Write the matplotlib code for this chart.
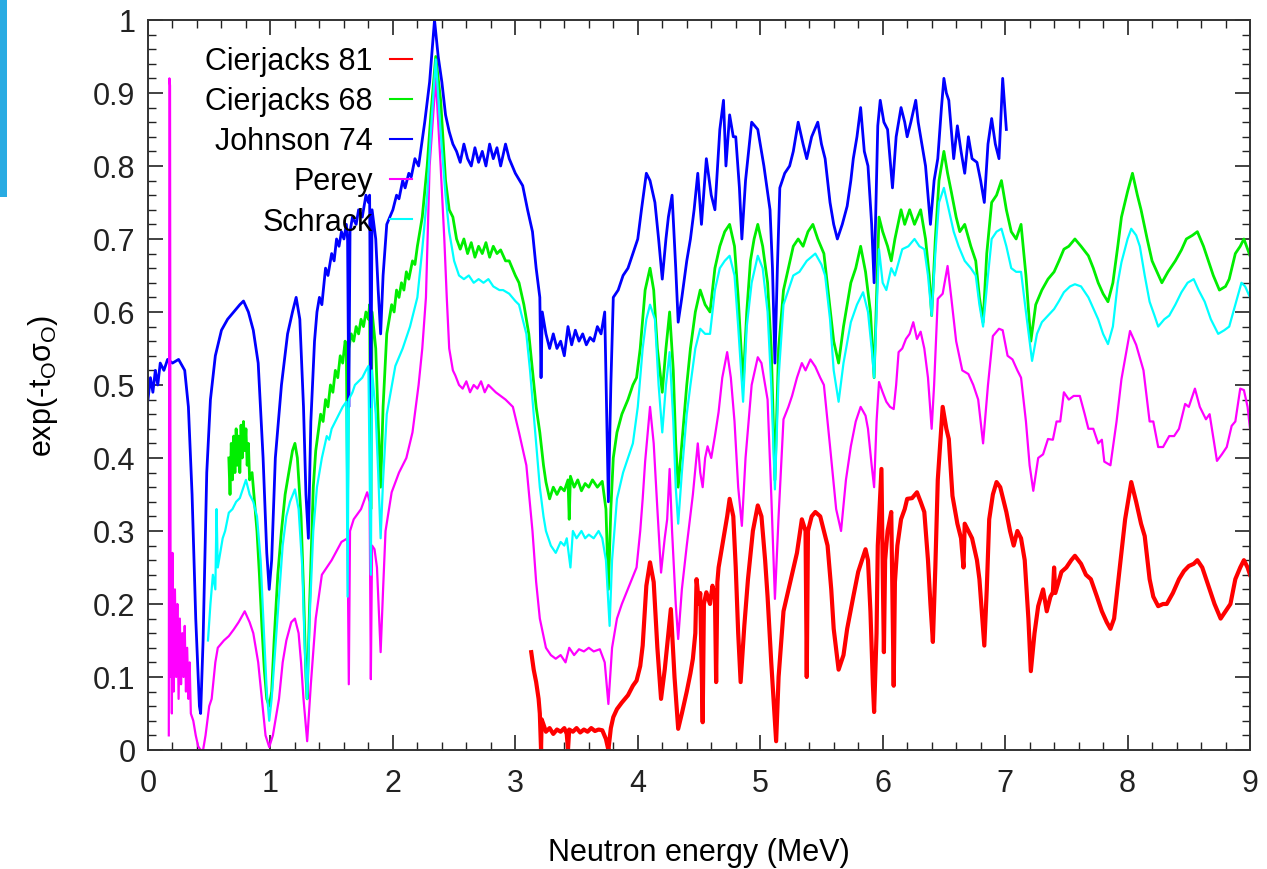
import matplotlib
matplotlib.use("Agg")
import matplotlib.pyplot as plt
from matplotlib.ticker import MultipleLocator
from matplotlib.patches import Rectangle

plt.rcParams['font.family'] = ['Liberation Sans', 'DejaVu Sans']
plt.rcParams['mathtext.fontset'] = 'custom'
plt.rcParams['mathtext.rm'] = 'Liberation Sans'
plt.rcParams['mathtext.it'] = 'Liberation Sans'

# ---- data (energy in MeV, transmission) ----
johnson_e = [0.00, 0.02, 0.04, 0.06, 0.08, 0.10, 0.13, 0.16, 0.20, 0.25, 0.30, 0.33, 0.36, 0.39, 0.42, 0.43,
             0.45, 0.48, 0.51, 0.55, 0.60, 0.65, 0.70, 0.75, 0.78, 0.82, 0.86, 0.90, 0.94, 0.97, 0.99, 1.01,
             1.04, 1.09, 1.14, 1.18, 1.21, 1.24, 1.27, 1.29, 1.31, 1.33,
             1.36, 1.38, 1.40, 1.42, 1.45, 1.47, 1.50, 1.52, 1.54, 1.56, 1.58, 1.60, 1.62, 1.63, 1.64, 1.65,
             1.67, 1.70, 1.72, 1.75, 1.78, 1.80, 1.81, 1.82, 1.83, 1.86, 1.88, 1.90, 1.92, 1.95,
             2.00, 2.03, 2.05, 2.08, 2.10, 2.13, 2.15, 2.18, 2.21, 2.26, 2.30, 2.34, 2.37, 2.40, 2.43, 2.46,
             2.49, 2.52, 2.55, 2.58, 2.61, 2.64,
             2.67, 2.70, 2.73, 2.76, 2.79, 2.82, 2.85, 2.88, 2.92, 2.95, 3.00, 3.06, 3.10, 3.14, 3.17, 3.20,
             3.21, 3.22, 3.25, 3.28, 3.31, 3.34, 3.37, 3.40, 3.43, 3.46, 3.49, 3.52, 3.55, 3.58, 3.61, 3.64,
             3.67, 3.70, 3.73, 3.76, 3.78, 3.80, 3.84, 3.88, 3.92, 3.96, 4.00, 4.03, 4.07, 4.10, 4.14, 4.17,
             4.20, 4.23, 4.25, 4.28, 4.31, 4.33, 4.36, 4.40, 4.43, 4.46, 4.49, 4.52, 4.56, 4.60, 4.63, 4.67,
             4.70, 4.72, 4.75, 4.78, 4.80, 4.83, 4.85, 4.88, 4.93, 4.98, 5.03, 5.08, 5.10, 5.12, 5.14, 5.16,
             5.20, 5.24, 5.27, 5.31, 5.35, 5.38, 5.42, 5.47, 5.50, 5.53, 5.57, 5.60, 5.63, 5.67, 5.71, 5.74,
             5.76, 5.79, 5.82, 5.85, 5.88, 5.91, 5.93, 5.96, 5.98, 6.01, 6.04, 6.08, 6.11, 6.15, 6.18, 6.20,
             6.23, 6.27, 6.29, 6.32, 6.35, 6.39, 6.42, 6.45, 6.48, 6.50, 6.52, 6.54, 6.56, 6.58, 6.61, 6.64,
             6.67, 6.70, 6.73, 6.77, 6.80, 6.83, 6.86, 6.89, 6.92, 6.95, 6.98, 7.01]
johnson_t = [0.48, 0.51, 0.49, 0.52, 0.50, 0.53, 0.52, 0.535, 0.53, 0.535, 0.52, 0.47, 0.35, 0.18, 0.06, 0.05,
             0.15, 0.38, 0.48, 0.54, 0.575, 0.59, 0.60, 0.61, 0.615, 0.60, 0.575, 0.53, 0.40, 0.27, 0.22, 0.26,
             0.40, 0.50, 0.57, 0.60, 0.62, 0.59, 0.47, 0.35, 0.29, 0.45,
             0.56, 0.60, 0.62, 0.61, 0.66, 0.65, 0.68, 0.67, 0.70, 0.69, 0.71, 0.70, 0.72, 0.70, 0.47, 0.71,
             0.73, 0.72, 0.74, 0.73, 0.76, 0.75, 0.76, 0.47, 0.74, 0.70, 0.63, 0.57, 0.65, 0.72,
             0.74, 0.76, 0.755, 0.78, 0.77, 0.79, 0.785, 0.81, 0.80, 0.86, 0.915, 1.0, 0.95, 0.915, 0.87, 0.847,
             0.83, 0.82, 0.805, 0.83, 0.81, 0.80,
             0.825, 0.805, 0.82, 0.80, 0.83, 0.81, 0.825, 0.80, 0.83, 0.81, 0.79, 0.773, 0.74, 0.71, 0.66, 0.62,
             0.51, 0.60, 0.57, 0.55, 0.57, 0.55, 0.56, 0.54, 0.58, 0.555, 0.575, 0.56, 0.57, 0.555, 0.565, 0.56,
             0.58, 0.57, 0.60, 0.34, 0.50, 0.62, 0.63, 0.65, 0.66, 0.68, 0.70, 0.74, 0.79, 0.78, 0.75, 0.70,
             0.645, 0.70, 0.73, 0.76, 0.66, 0.586, 0.62, 0.67, 0.70, 0.74, 0.79, 0.72, 0.81, 0.76, 0.74, 0.85,
             0.89, 0.80, 0.87, 0.84, 0.84, 0.77, 0.70, 0.78, 0.86, 0.85, 0.80, 0.74, 0.66, 0.53, 0.66, 0.77,
             0.79, 0.80, 0.82, 0.86, 0.83, 0.81, 0.84, 0.86, 0.83, 0.81, 0.75, 0.72, 0.70, 0.72, 0.745, 0.78,
             0.81, 0.84, 0.88, 0.82, 0.80, 0.72, 0.64, 0.855, 0.89, 0.86, 0.85, 0.77, 0.84, 0.88, 0.86, 0.84,
             0.86, 0.89, 0.86, 0.83, 0.80, 0.72, 0.78, 0.81, 0.88, 0.92, 0.90, 0.89, 0.85, 0.81, 0.855, 0.82,
             0.79, 0.84, 0.81, 0.805, 0.78, 0.75, 0.83, 0.865, 0.83, 0.81, 0.92, 0.85]

cj68_e = [0.66, 0.67, 0.68, 0.69, 0.70, 0.71, 0.72, 0.73, 0.74, 0.75, 0.76, 0.77, 0.78, 0.79, 0.80, 0.81,
          0.82, 0.83, 0.85, 0.87, 0.89, 0.91, 0.93, 0.95, 0.97, 0.99, 1.01, 1.03, 1.06, 1.09, 1.12, 1.15,
          1.18, 1.20, 1.22, 1.25, 1.27, 1.29, 1.30, 1.32, 1.35, 1.37, 1.39, 1.41, 1.43, 1.45, 1.47, 1.49,
          1.51, 1.53, 1.55, 1.57, 1.59, 1.61, 1.62, 1.63, 1.64, 1.66, 1.68, 1.70, 1.72, 1.74, 1.76, 1.78,
          1.80, 1.81, 1.82, 1.83, 1.86, 1.88, 1.90, 1.92, 1.95, 1.97, 1.99, 2.01, 2.03, 2.05, 2.07, 2.09,
          2.11, 2.13, 2.16, 2.18, 2.20, 2.24, 2.28, 2.31, 2.35, 2.39, 2.43, 2.46, 2.49, 2.52, 2.55, 2.58,
          2.61, 2.64, 2.67, 2.70, 2.73, 2.76, 2.79, 2.82, 2.85, 2.88, 2.92, 2.95, 3.00, 3.03, 3.07, 3.11,
          3.14, 3.17, 3.20, 3.23, 3.25, 3.28, 3.31, 3.34, 3.37, 3.40, 3.43, 3.44, 3.45, 3.48, 3.51, 3.54,
          3.57, 3.60, 3.63, 3.67, 3.71, 3.74, 3.76, 3.78, 3.80, 3.83, 3.87, 3.92, 3.96, 3.99, 4.02, 4.06,
          4.10, 4.13, 4.16, 4.20, 4.23, 4.26, 4.29, 4.31, 4.33, 4.36, 4.40, 4.43, 4.47, 4.51, 4.55, 4.59,
          4.63, 4.67, 4.71, 4.75, 4.79, 4.82, 4.86, 4.89, 4.92, 4.95, 4.98, 5.02, 5.06, 5.09, 5.12, 5.15,
          5.19, 5.23, 5.27, 5.31, 5.35, 5.39, 5.43, 5.47, 5.52, 5.56, 5.60, 5.64, 5.68, 5.74, 5.78, 5.82,
          5.86, 5.90, 5.93, 5.95, 5.97, 6.00, 6.04, 6.07, 6.10, 6.15, 6.18, 6.22, 6.26, 6.31, 6.35, 6.38,
          6.40, 6.43, 6.46, 6.50, 6.53, 6.56, 6.60, 6.63, 6.67, 6.72, 6.76, 6.79, 6.82, 6.85, 6.89, 6.93,
          6.97, 7.01, 7.05, 7.09, 7.13, 7.17, 7.21, 7.25, 7.30, 7.35, 7.40, 7.44, 7.48, 7.52, 7.57, 7.62,
          7.68, 7.72, 7.76, 7.80, 7.84, 7.88, 7.92, 7.95, 8.00, 8.04, 8.08, 8.11, 8.16, 8.20, 8.24, 8.28,
          8.33, 8.39, 8.44, 8.48, 8.53, 8.57, 8.62, 8.66, 8.70, 8.75, 8.80, 8.83, 8.88, 8.92, 8.95, 9.00]
cj68_t = [0.40, 0.35, 0.42, 0.37, 0.43, 0.38, 0.44, 0.39, 0.43, 0.38, 0.445, 0.40, 0.45, 0.41, 0.44, 0.39,
          0.42, 0.37, 0.38, 0.34, 0.30, 0.24, 0.17, 0.11, 0.07, 0.06, 0.08, 0.15, 0.24, 0.30, 0.35, 0.38,
          0.41, 0.42, 0.40, 0.32, 0.22, 0.10, 0.07, 0.20, 0.36, 0.41, 0.435, 0.46, 0.45, 0.48, 0.47, 0.50,
          0.49, 0.52, 0.51, 0.54, 0.53, 0.56, 0.55, 0.35, 0.55, 0.57, 0.56, 0.58, 0.57, 0.59, 0.58, 0.60,
          0.59, 0.61, 0.33, 0.60, 0.55, 0.45, 0.36, 0.47, 0.57, 0.59, 0.61, 0.60, 0.63, 0.62, 0.64, 0.63,
          0.655, 0.645, 0.67, 0.665, 0.69, 0.73, 0.80, 0.87, 0.95, 0.89, 0.78, 0.74, 0.73, 0.70, 0.686, 0.70,
          0.68, 0.695, 0.675, 0.69, 0.68, 0.695, 0.675, 0.69, 0.68, 0.685, 0.67, 0.67, 0.65, 0.64, 0.61, 0.57,
          0.52, 0.47, 0.435, 0.39, 0.367, 0.344, 0.36, 0.35, 0.36, 0.355, 0.37, 0.316, 0.375, 0.36, 0.37, 0.355,
          0.365, 0.36, 0.37, 0.36, 0.368, 0.33, 0.22, 0.33, 0.40, 0.435, 0.46, 0.48, 0.50, 0.51, 0.55, 0.63,
          0.66, 0.63, 0.55, 0.49, 0.55, 0.60, 0.52, 0.42, 0.36, 0.42, 0.50, 0.55, 0.60, 0.63, 0.61, 0.60,
          0.66, 0.69, 0.71, 0.72, 0.69, 0.62, 0.50, 0.60, 0.67, 0.70, 0.72, 0.69, 0.64, 0.55, 0.37, 0.55,
          0.63, 0.66, 0.69, 0.70, 0.69, 0.71, 0.72, 0.70, 0.68, 0.62, 0.56, 0.53, 0.58, 0.64, 0.66, 0.69,
          0.655, 0.60, 0.51, 0.62, 0.73, 0.71, 0.69, 0.67, 0.70, 0.74, 0.72, 0.74, 0.72, 0.74, 0.70, 0.65,
          0.595, 0.70, 0.78, 0.82, 0.79, 0.765, 0.73, 0.71, 0.72, 0.69, 0.67, 0.62, 0.586, 0.68, 0.75, 0.76,
          0.78, 0.74, 0.71, 0.70, 0.72, 0.65, 0.56, 0.61, 0.63, 0.645, 0.655, 0.67, 0.686, 0.69, 0.70, 0.69,
          0.677, 0.66, 0.64, 0.625, 0.614, 0.64, 0.69, 0.73, 0.765, 0.79, 0.76, 0.74, 0.70, 0.67, 0.655, 0.64,
          0.655, 0.67, 0.685, 0.70, 0.705, 0.71, 0.69, 0.67, 0.65, 0.63, 0.635, 0.645, 0.68, 0.69, 0.70, 0.677]

schrack_e = [0.49, 0.51, 0.53, 0.55, 0.56, 0.57, 0.59, 0.61, 0.63, 0.66, 0.69, 0.72, 0.75, 0.78, 0.80, 0.83,
             0.86, 0.89, 0.92, 0.95, 0.97, 0.99, 1.01, 1.04, 1.07, 1.10, 1.13, 1.16, 1.20, 1.23, 1.26, 1.28,
             1.30, 1.32, 1.35, 1.38, 1.40, 1.42, 1.44, 1.46, 1.48, 1.50, 1.53, 1.56, 1.59, 1.62, 1.63, 1.64,
             1.67, 1.69, 1.72, 1.75, 1.78, 1.80, 1.82, 1.83,
             1.86, 1.88, 1.90, 1.92, 1.95, 2.02, 2.08, 2.14, 2.20, 2.24, 2.28, 2.31, 2.35, 2.39, 2.43, 2.46,
             2.50, 2.54, 2.58, 2.62, 2.66, 2.70, 2.74, 2.78, 2.82, 2.87, 2.90, 2.95, 3.00, 3.03, 3.06, 3.09,
             3.12, 3.14, 3.17, 3.20, 3.23, 3.25, 3.29, 3.33, 3.37, 3.40, 3.42, 3.45, 3.47, 3.50, 3.54, 3.57,
             3.60, 3.64, 3.68, 3.71, 3.74, 3.77, 3.79, 3.83, 3.88, 3.92, 3.96, 4.00, 4.04, 4.07, 4.10, 4.14,
             4.17, 4.20, 4.23, 4.26, 4.29, 4.31, 4.33, 4.36, 4.40, 4.43, 4.47, 4.51, 4.55, 4.59, 4.63, 4.67,
             4.71, 4.75, 4.79, 4.82, 4.86, 4.89, 4.93, 4.98, 5.02, 5.06, 5.09, 5.12, 5.15, 5.19, 5.23, 5.27,
             5.32, 5.38, 5.45, 5.50, 5.53, 5.57, 5.60, 5.64, 5.68, 5.74, 5.79, 5.84, 5.88, 5.91, 5.93, 5.95,
             5.97, 6.00, 6.03, 6.07, 6.10, 6.16, 6.21, 6.26, 6.30, 6.34, 6.37, 6.40, 6.43, 6.46, 6.50, 6.54,
             6.58, 6.62, 6.67, 6.72, 6.76, 6.79, 6.82, 6.86, 6.89, 6.93, 6.97, 7.01, 7.05, 7.09, 7.13, 7.17,
             7.22, 7.26, 7.30, 7.35, 7.40, 7.44, 7.48, 7.53, 7.57, 7.62, 7.68, 7.72, 7.76, 7.80, 7.84, 7.88,
             7.92, 7.95, 8.00, 8.03, 8.07, 8.10, 8.14, 8.18, 8.22, 8.25, 8.30, 8.34, 8.39, 8.44, 8.49, 8.54,
             8.58, 8.63, 8.68, 8.74, 8.79, 8.83, 8.88, 8.93, 8.96, 9.00]
schrack_t = [0.15, 0.20, 0.24, 0.22, 0.33, 0.25, 0.27, 0.29, 0.30, 0.325, 0.33, 0.34, 0.345, 0.36, 0.37, 0.35,
             0.34, 0.32, 0.26, 0.15, 0.08, 0.04, 0.07, 0.14, 0.21, 0.28, 0.32, 0.34, 0.357, 0.33, 0.25, 0.14,
             0.07, 0.18, 0.30, 0.36, 0.38, 0.40, 0.415, 0.43, 0.425, 0.44, 0.45, 0.46, 0.47, 0.477, 0.21, 0.48,
             0.49, 0.50, 0.505, 0.51, 0.52, 0.526, 0.24, 0.52,
             0.46, 0.38, 0.29, 0.37, 0.46, 0.526, 0.55, 0.58, 0.62, 0.686, 0.76, 0.846, 0.946, 0.846, 0.76, 0.71,
             0.67, 0.65, 0.645, 0.65, 0.64, 0.645, 0.64, 0.645, 0.635, 0.63, 0.63, 0.625, 0.615, 0.61, 0.59, 0.57,
             0.52, 0.48, 0.42, 0.36, 0.32, 0.30, 0.28, 0.27, 0.285, 0.28, 0.29, 0.25, 0.30, 0.29, 0.30, 0.29,
             0.295, 0.29, 0.30, 0.29, 0.26, 0.17, 0.26, 0.344, 0.38, 0.40, 0.42, 0.47, 0.55, 0.59, 0.61, 0.59,
             0.50, 0.435, 0.50, 0.545, 0.45, 0.36, 0.31, 0.38, 0.46, 0.50, 0.55, 0.577, 0.57, 0.57, 0.63, 0.66,
             0.67, 0.677, 0.65, 0.58, 0.477, 0.58, 0.64, 0.677, 0.66, 0.60, 0.50, 0.357, 0.51, 0.61, 0.63, 0.65,
             0.655, 0.67, 0.68, 0.665, 0.65, 0.59, 0.52, 0.477, 0.53, 0.586, 0.61, 0.627, 0.60, 0.55, 0.51, 0.60,
             0.686, 0.64, 0.63, 0.66, 0.65, 0.686, 0.69, 0.70, 0.69, 0.686, 0.65, 0.595, 0.68, 0.75, 0.77, 0.74,
             0.71, 0.69, 0.67, 0.66, 0.65, 0.61, 0.58, 0.65, 0.70, 0.71, 0.714, 0.69, 0.66, 0.655, 0.655, 0.60,
             0.533, 0.57, 0.586, 0.595, 0.604, 0.615, 0.627, 0.635, 0.638, 0.635, 0.62, 0.605, 0.59, 0.57, 0.556, 0.58,
             0.64, 0.668, 0.70, 0.714, 0.705, 0.69, 0.65, 0.614, 0.595, 0.58, 0.59, 0.595, 0.61, 0.627, 0.64, 0.645,
             0.63, 0.614, 0.59, 0.57, 0.575, 0.58, 0.61, 0.64, 0.635, 0.62]

perey_e = [0.170, 0.175, 0.180, 0.185, 0.19, 0.195, 0.20, 0.21, 0.22, 0.23, 0.24, 0.25, 0.26, 0.27, 0.28, 0.29,
           0.30, 0.31, 0.32, 0.33, 0.34, 0.35, 0.37, 0.39, 0.41, 0.43, 0.45, 0.47, 0.50, 0.52, 0.55, 0.57,
           0.62, 0.66, 0.70, 0.74, 0.79, 0.83, 0.86, 0.90, 0.93, 0.96, 0.99, 1.02, 1.05, 1.07, 1.10, 1.13,
           1.17, 1.20, 1.23, 1.25, 1.27, 1.30, 1.33, 1.37, 1.42, 1.50, 1.58, 1.63, 1.64, 1.65, 1.68, 1.74,
           1.79, 1.81, 1.82, 1.83, 1.85, 1.87, 1.90, 1.92, 1.94, 1.99, 2.05, 2.11, 2.16, 2.21, 2.24, 2.27,
           2.30, 2.35, 2.39, 2.42, 2.44, 2.46, 2.49, 2.51, 2.54, 2.57, 2.60, 2.63, 2.66, 2.69, 2.72, 2.75,
           2.78, 2.81, 2.84, 2.88, 2.92, 2.95, 2.98, 3.03, 3.09, 3.14, 3.17, 3.20, 3.25, 3.29, 3.33, 3.37,
           3.41, 3.44, 3.48, 3.52, 3.56, 3.60, 3.64, 3.69, 3.73, 3.76, 3.79, 3.83, 3.87, 3.93, 3.99, 4.02,
           4.04, 4.06, 4.10, 4.13, 4.16, 4.19, 4.22, 4.24, 4.26, 4.28, 4.31, 4.33, 4.36, 4.40, 4.45, 4.49,
           4.51, 4.53, 4.55, 4.57, 4.60, 4.63, 4.66, 4.69, 4.73, 4.76, 4.79, 4.82, 4.85, 4.88, 4.93, 4.98,
           5.01, 5.06, 5.09, 5.12, 5.15, 5.19, 5.23, 5.26, 5.30, 5.34, 5.37, 5.41, 5.45, 5.49, 5.52, 5.57,
           5.62, 5.66, 5.70, 5.74, 5.78, 5.82, 5.86, 5.88, 5.91, 5.93, 5.95, 5.97, 6.00, 6.03, 6.06, 6.09,
           6.11, 6.13, 6.16, 6.19, 6.22, 6.25, 6.28, 6.31, 6.34, 6.37, 6.40, 6.42, 6.45, 6.49, 6.53, 6.56,
           6.60, 6.65, 6.70, 6.74, 6.78, 6.82, 6.86, 6.90, 6.95, 6.98, 7.02, 7.06, 7.10, 7.13, 7.17, 7.20,
           7.23, 7.27, 7.31, 7.35, 7.39, 7.42, 7.45, 7.48, 7.52, 7.56, 7.61, 7.65, 7.68, 7.72, 7.76, 7.79,
           7.81, 7.86, 7.91, 7.95, 8.02, 8.07, 8.13, 8.18, 8.21, 8.25, 8.29, 8.34, 8.38, 8.42, 8.47, 8.50,
           8.55, 8.59, 8.64, 8.67, 8.73, 8.77, 8.81, 8.85, 8.88, 8.92, 8.95, 8.98, 9.00]
perey_t = [0.02, 0.92, 0.91, 0.10, 0.25, 0.05, 0.27, 0.08, 0.22, 0.10, 0.20, 0.07, 0.18, 0.09, 0.16, 0.10,
           0.17, 0.08, 0.14, 0.07, 0.12, 0.05, 0.04, 0.02, 0.005, 0.0, 0.0, 0.02, 0.06, 0.07, 0.12, 0.14,
           0.15, 0.156, 0.165, 0.175, 0.19, 0.175, 0.16, 0.12, 0.07, 0.02, 0.004, 0.02, 0.05, 0.07, 0.12, 0.15,
           0.175, 0.18, 0.16, 0.12, 0.07, 0.012, 0.09, 0.18, 0.24, 0.26, 0.285, 0.29, 0.09, 0.30, 0.316, 0.33,
           0.353, 0.34, 0.097, 0.28, 0.275, 0.25, 0.134, 0.22, 0.30, 0.353, 0.38, 0.40, 0.435, 0.50, 0.55, 0.62,
           0.80, 0.92, 0.80, 0.70, 0.62, 0.55, 0.52, 0.513, 0.50, 0.495, 0.505, 0.49, 0.50, 0.495, 0.505, 0.49,
           0.50, 0.495, 0.49, 0.485, 0.48, 0.475, 0.47, 0.435, 0.39, 0.30, 0.23, 0.18, 0.14, 0.13, 0.125, 0.13,
           0.12, 0.14, 0.13, 0.138, 0.135, 0.14, 0.135, 0.138, 0.12, 0.063, 0.14, 0.18, 0.20, 0.225, 0.25, 0.30,
           0.344, 0.395, 0.47, 0.42, 0.33, 0.243, 0.29, 0.316, 0.385, 0.30, 0.20, 0.152, 0.22, 0.28, 0.35, 0.42,
           0.38, 0.36, 0.40, 0.416, 0.40, 0.43, 0.463, 0.51, 0.545, 0.51, 0.45, 0.36, 0.307, 0.40, 0.50, 0.538,
           0.53, 0.48, 0.35, 0.207, 0.32, 0.453, 0.47, 0.485, 0.51, 0.53, 0.52, 0.535, 0.525, 0.51, 0.50, 0.416,
           0.33, 0.30, 0.37, 0.416, 0.45, 0.47, 0.458, 0.44, 0.39, 0.36, 0.45, 0.504, 0.49, 0.477, 0.47, 0.467,
           0.50, 0.545, 0.55, 0.563, 0.57, 0.586, 0.563, 0.573, 0.55, 0.51, 0.44, 0.50, 0.618, 0.625, 0.663, 0.62,
           0.56, 0.52, 0.515, 0.50, 0.48, 0.42, 0.50, 0.567, 0.577, 0.575, 0.54, 0.535, 0.52, 0.51, 0.45, 0.39,
           0.355, 0.40, 0.405, 0.426, 0.425, 0.45, 0.45, 0.49, 0.48, 0.485, 0.485, 0.46, 0.44, 0.44, 0.42, 0.425,
           0.395, 0.39, 0.45, 0.508, 0.574, 0.555, 0.52, 0.45, 0.45, 0.415, 0.415, 0.43, 0.43, 0.44, 0.474, 0.47,
           0.495, 0.47, 0.453, 0.46, 0.396, 0.405, 0.415, 0.444, 0.45, 0.495, 0.493, 0.47, 0.44]

cj81_e = [3.13, 3.15, 3.17, 3.19, 3.20, 3.21, 3.215, 3.23, 3.25, 3.28, 3.31, 3.34, 3.37, 3.40, 3.42, 3.43,
          3.44, 3.47, 3.50, 3.53, 3.56, 3.59, 3.62, 3.65, 3.68, 3.71, 3.74, 3.76, 3.78, 3.80, 3.83, 3.87,
          3.92, 3.96, 3.99, 4.02, 4.04, 4.07, 4.10, 4.13, 4.16, 4.19, 4.22, 4.24, 4.27, 4.30, 4.33, 4.36,
          4.40, 4.43, 4.45, 4.47, 4.48, 4.50, 4.51, 4.53, 4.54, 4.56, 4.59, 4.61, 4.63, 4.64, 4.65, 4.66,
          4.70, 4.73, 4.75, 4.78, 4.80, 4.82, 4.84, 4.87, 4.90, 4.94, 4.98, 5.01, 5.04, 5.06, 5.09, 5.13,
          5.15, 5.19, 5.25, 5.30, 5.34, 5.37, 5.38, 5.39, 5.42, 5.45, 5.49, 5.52, 5.55, 5.58, 5.60, 5.64,
          5.68, 5.71, 5.76, 5.80, 5.84, 5.86, 5.88, 5.90, 5.92, 5.93, 5.95, 5.96, 5.99, 6.00, 6.01, 6.02,
          6.04, 6.07, 6.09, 6.10, 6.12, 6.15, 6.18, 6.20, 6.24, 6.28, 6.31, 6.34, 6.37, 6.39, 6.41, 6.43,
          6.45, 6.49, 6.52, 6.54, 6.57, 6.61, 6.64, 6.66, 6.67, 6.70, 6.73, 6.77, 6.79, 6.83, 6.85, 6.87,
          6.90, 6.93, 6.96, 7.01, 7.04, 7.07, 7.10, 7.13, 7.16, 7.19, 7.21, 7.24, 7.27, 7.31, 7.34, 7.37,
          7.39, 7.40, 7.41, 7.46, 7.50, 7.54, 7.57, 7.62, 7.66, 7.70, 7.75, 7.79, 7.83, 7.86, 7.89, 7.92,
          7.95, 7.98, 8.03, 8.07, 8.11, 8.14, 8.18, 8.21, 8.25, 8.29, 8.32, 8.37, 8.42, 8.46, 8.50, 8.54,
          8.57, 8.61, 8.64, 8.67, 8.71, 8.76, 8.80, 8.84, 8.88, 8.92, 8.95, 8.98, 9.00]
cj81_t = [0.134, 0.11, 0.093, 0.07, 0.05, 0.0, 0.042, 0.035, 0.025, 0.03, 0.022, 0.028, 0.025, 0.03, 0.022, 0.0,
          0.028, 0.025, 0.03, 0.024, 0.028, 0.025, 0.03, 0.026, 0.028, 0.027, 0.015, 0.0, 0.03, 0.045, 0.056, 0.065,
          0.075, 0.088, 0.095, 0.115, 0.143, 0.225, 0.257, 0.23, 0.14, 0.07, 0.11, 0.143, 0.193, 0.10, 0.029, 0.05,
          0.08, 0.105, 0.125, 0.16, 0.234, 0.20, 0.215, 0.038, 0.20, 0.216, 0.20, 0.225, 0.21, 0.093, 0.23, 0.25,
          0.29, 0.32, 0.344, 0.32, 0.25, 0.16, 0.093, 0.17, 0.234, 0.30, 0.335, 0.32, 0.26, 0.21, 0.12, 0.012,
          0.10, 0.19, 0.234, 0.27, 0.316, 0.30, 0.10, 0.30, 0.32, 0.326, 0.32, 0.30, 0.28, 0.22, 0.166, 0.11,
          0.13, 0.166, 0.21, 0.244, 0.265, 0.275, 0.26, 0.19, 0.09, 0.052, 0.16, 0.28, 0.385, 0.25, 0.134, 0.26,
          0.30, 0.326, 0.088, 0.23, 0.28, 0.316, 0.33, 0.344, 0.345, 0.353, 0.34, 0.326, 0.26, 0.20, 0.148, 0.25,
          0.37, 0.47, 0.44, 0.426, 0.348, 0.31, 0.29, 0.25, 0.31, 0.30, 0.29, 0.26, 0.234, 0.143, 0.22, 0.316,
          0.35, 0.367, 0.36, 0.326, 0.30, 0.28, 0.30, 0.29, 0.26, 0.18, 0.108, 0.16, 0.197, 0.22, 0.19, 0.21,
          0.216, 0.25, 0.215, 0.244, 0.25, 0.26, 0.266, 0.255, 0.24, 0.234, 0.21, 0.19, 0.175, 0.166, 0.18, 0.225,
          0.27, 0.316, 0.367, 0.34, 0.31, 0.293, 0.234, 0.21, 0.197, 0.20, 0.20, 0.215, 0.234, 0.245, 0.252, 0.255,
          0.26, 0.25, 0.235, 0.22, 0.20, 0.18, 0.19, 0.20, 0.234, 0.25, 0.26, 0.25, 0.24]

labels = ['Cierjacks 81', 'Cierjacks 68', 'Johnson 74', 'Perey', 'Schrack']

# ---- figure ----
fig = plt.figure(figsize=(12.67, 8.70), dpi=100)
ax = fig.add_axes([0.1168, 0.1368, 0.8698, 0.8391])

ax.plot(cj81_e, cj81_t, color='#ff0000', lw=3.0, label=labels[0])
ax.plot(cj68_e, cj68_t, color='#00ee00', lw=2.0, label=labels[1])
ax.plot(johnson_e, johnson_t, color='#0000ff', lw=2.0, label=labels[2])
ax.plot(perey_e, perey_t, color='#ff00ff', lw=1.6, label=labels[3])
ax.plot(schrack_e, schrack_t, color='#00ffff', lw=1.6, label=labels[4])

ax.set_xlim(0, 9)
ax.set_ylim(0, 1)
ax.xaxis.set_major_locator(MultipleLocator(1))
ax.xaxis.set_minor_locator(MultipleLocator(0.2))
ax.yaxis.set_minor_locator(MultipleLocator(0.02))
ax.set_yticks([0, 0.1, 0.2, 0.3, 0.4, 0.5, 0.6, 0.7, 0.8, 0.9, 1.0])
ax.set_yticklabels(['0', '0.1', '0.2', '0.3', '0.4', '0.5', '0.6', '0.7', '0.8', '0.9', '1'])
ax.tick_params(which='both', direction='in', top=True, right=True, labelsize=22, colors='#222222')
ax.tick_params(which='major', length=11, width=1.2)
ax.tick_params(which='minor', length=6, width=1.0)
ax.tick_params(axis='x', pad=13)
ax.tick_params(axis='y', pad=9)
for s in ax.spines.values():
    s.set_linewidth(1.4)
    s.set_color('#333333')

ax.set_xlabel('Neutron energy (MeV)', fontsize=22, labelpad=28)
ax.set_ylabel(r'exp(-t$_\mathrm{O}$$\sigma_\mathrm{O}$)', fontsize=22, labelpad=24)

leg = ax.legend(loc='upper right', bbox_to_anchor=(0.24, 0.964), frameon=False, markerfirst=False,
                fontsize=22, handlelength=0.75, handletextpad=0.55, labelspacing=0.33,
                borderpad=0, borderaxespad=0)
for col in leg._legend_handle_box.get_children():
    col.align = 'right'
for ln in leg.get_lines():
    ln.set_linewidth(1.5)

# slide edge decoration
fig.add_artist(Rectangle((0, 1 - 198 / 870), 7 / 1267, 198 / 870, transform=fig.transFigure,
                         color='#29abe2', lw=0))

fig.savefig('out.png', dpi=100)
